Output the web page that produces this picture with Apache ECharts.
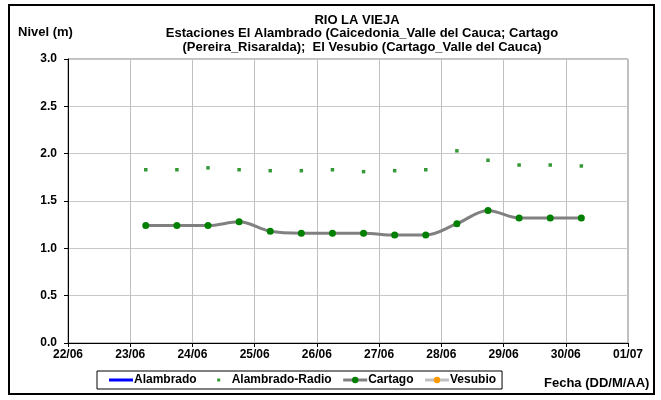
<!DOCTYPE html>
<html><head><meta charset="utf-8">
<script src="https://cdn.jsdelivr.net/npm/echarts@6/dist/echarts.min.js"></script>
<style>html,body{margin:0;padding:0;background:#fff}#c{width:661px;height:400px}</style>
</head><body><div id="c"></div>
<script>
var xTickLabels = ['22/06','23/06','24/06','25/06','26/06','27/06','28/06','29/06','30/06','01/07'];
var times = ['23/06 06:00','23/06 18:00','24/06 06:00','24/06 18:00','25/06 06:00','25/06 18:00','26/06 06:00','26/06 18:00','27/06 06:00','27/06 18:00','28/06 06:00','28/06 18:00','29/06 06:00','29/06 18:00','30/06 06:00'];
var cartago = [1.24,1.24,1.24,1.28,1.18,1.16,1.16,1.16,1.14,1.14,1.26,1.40,1.32,1.32,1.32];
var alambradoRadio = [1.83,1.83,1.85,1.83,1.82,1.82,1.83,1.81,1.82,1.83,2.03,1.93,1.88,1.88,1.87];
var alambrado = [];
var vesubio = [];

function dayPos(s){
  var p = s.split(' '); var d = p[0].split('/'); var t = p[1].split(':');
  var day = parseInt(d[0],10), mon = parseInt(d[1],10);
  var base = (mon === 6) ? day - 22 : 30 - 22 + day;
  return base + (parseInt(t[0],10) + parseInt(t[1],10)/60)/24;
}
function pair(vals){ return vals.map(function(v,i){ return [dayPos(times[i]), v]; }); }

var font = '"Liberation Sans", Arial, sans-serif';
var lineIcon = 'path://M0,0L0.01,0M0,2.5L24,2.5L24,5.5L0,5.5ZM23.99,8L24,8';
var dotIcon = 'path://M0,0L0.01,0M10.5,2.5L13.5,2.5L13.5,5.5L10.5,5.5ZM23.99,8L24,8';
var chart = echarts.init(document.getElementById('c'), null, {renderer:'canvas'});
chart.setOption({
  animation:false,
  backgroundColor:'#fff',
  title:[
    {text:'RIO LA VIEJA', left:352, top:9, textAlign:'center',
     textStyle:{fontFamily:font,fontSize:13,fontWeight:'bold',color:'#000'}},
    {text:'Estaciones El Alambrado (Caicedonia_Valle del Cauca; Cartago\n(Pereira_Risaralda);  El Vesubio (Cartago_Valle del Cauca)', left:357, top:21, textAlign:'center',
     textStyle:{fontFamily:font,fontSize:13,fontWeight:'bold',color:'#000',lineHeight:14}},
    {text:'Nivel (m)', left:13, top:21,
     textStyle:{fontFamily:font,fontSize:13,fontWeight:'bold',color:'#000'}},
    {text:'Fecha (DD/M/AA)', left:539, top:372,
     textStyle:{fontFamily:font,fontSize:13,fontWeight:'bold',color:'#000'}}
  ],
  graphic:[{type:'rect', shape:{x:9,y:5,width:645,height:389}, style:{fill:'none',stroke:'#000',lineWidth:2}, silent:true, z:-1}],
  grid:{left:68,right:33,top:59,bottom:57,show:true,borderColor:'#808080',borderWidth:1,backgroundColor:'transparent'},
  legend:{
    left:97, top:371, orient:'horizontal',
    borderColor:'#000', borderWidth:1, padding:[3,6,3,12], itemGap:10,
    itemWidth:24, itemHeight:8,
    textStyle:{fontFamily:font,fontSize:12,fontWeight:'bold',color:'#000',padding:[0,0,0,-4]},
    data:[
      {name:'Alambrado', icon:lineIcon},
      {name:'Alambrado-Radio', icon:dotIcon},
      {name:'Cartago', lineStyle:{width:3}},
      {name:'Vesubio', lineStyle:{width:3}}
    ]
  },
  xAxis:{
    type:'value', min:0, max:9, interval:1,
    axisLine:{show:true,lineStyle:{color:'#000',width:1}},
    axisTick:{show:true,inside:false,length:4,lineStyle:{color:'#000'}},
    axisLabel:{formatter:function(v){return xTickLabels[Math.round(v)];}, fontFamily:font,fontSize:12,fontWeight:'bold',color:'#000',margin:6},
    splitLine:{show:true,lineStyle:{color:'#c0c0c0',width:1}}
  },
  yAxis:{
    type:'value', min:0, max:3, interval:0.5,
    axisLine:{show:true,lineStyle:{color:'#000',width:1}},
    axisTick:{show:true,inside:false,length:4,lineStyle:{color:'#000'}},
    axisLabel:{formatter:function(v){return v.toFixed(1);}, fontFamily:font,fontSize:12,fontWeight:'bold',color:'#000',margin:11},
    splitLine:{show:true,lineStyle:{color:'#c8c8c8',width:1}}
  },
  series:[
    {name:'Alambrado', type:'line', data:pair(alambrado), symbol:'none', lineStyle:{color:'#0000ff',width:3}, itemStyle:{color:'#0000ff'}},
    {name:'Alambrado-Radio', type:'scatter', data:pair(alambradoRadio), symbol:'rect', symbolSize:3.5, itemStyle:{color:'#008000'}},
    {name:'Cartago', type:'line', data:pair(cartago), smooth:0.35, symbol:'circle', symbolSize:7, lineStyle:{color:'#808080',width:3}, itemStyle:{color:'#008000',borderWidth:0}},
    {name:'Vesubio', type:'line', data:pair(vesubio), symbol:'circle', symbolSize:6, lineStyle:{color:'#c0c0c0',width:3}, itemStyle:{color:'#ff9900'}}
  ]
});
</script></body></html>
